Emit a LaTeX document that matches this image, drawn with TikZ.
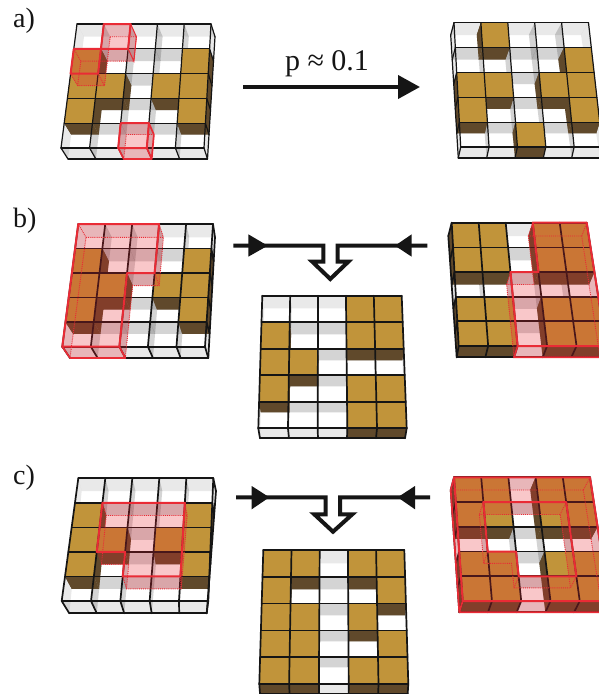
\documentclass[tikz,border=0pt]{standalone}
\usepackage{fontspec}
\setmainfont{Liberation Serif}
\usetikzlibrary{calc,arrows.meta}
\definecolor{gold}{HTML}{C1943A}
\definecolor{wallc}{HTML}{60492B}
\definecolor{redc}{HTML}{E8202A}
\definecolor{inkc}{HTML}{151515}
\tikzset{
  x=1pt,y=-1pt,
  goldtop/.style={fill=gold},
  goldwall/.style={fill=wallc},
  glass/.style={fill=black,fill opacity=.085},
  gridline/.style={draw=inkc,line width=\lw pt,line join=round,line cap=round},
  redtop/.style={draw=redc!95!white,line width=2pt,line join=round},
  redside/.style={draw=redc!95!white,line width=1pt},
  redfront/.style={draw=redc!95!white,line width=1.7pt,line join=round},
  reddot/.style={draw=redc!95!white,line width=.9pt,densely dotted},
  flow/.style={draw=inkc,line width=4pt,miter limit=10},
  headfill/.style={fill=inkc},
  caption/.style={font=\fontsize{28}{30}\selectfont,text=inkc,inner sep=0pt},
}
\newcommand\gridpts[5]{%
  \foreach \i in {0,...,5}{\foreach \j in {0,...,5}{%
    \coordinate (#1-\i-\j) at ($($#2!\i/5!#3$)!\j/5!($#5!\i/5!#4$)$);
  }}}
\newcommand\wallq[5]{% prefix, i1,j1,i2,j2 : wall between two top-plane corners
  (#1T-#2-#3) -- (#1T-#4-#5) -- (#1F-#4-#5) -- (#1F-#2-#3) -- cycle}
% #1 prefix, #2 block cells c/r (back to front), #3 visible floor side (-1 none), #4 line width
\newcommand\panel[4]{%
  \def\lw{#4}%
  \foreach \i in {0,...,4}{\foreach \j in {0,...,4}{%
    \pgfmathtruncatemacro\ii{\i+1}\pgfmathtruncatemacro\jj{\j+1}%
    \fill[glass] \wallq{#1}{\i}{\j}{\ii}{\j};
    \fill[glass] \wallq{#1}{\i}{\jj}{\ii}{\jj};
    \fill[glass] \wallq{#1}{\i}{\j}{\i}{\jj};
    \fill[glass] \wallq{#1}{\ii}{\j}{\ii}{\jj};
  }}%
  \foreach \i/\j in {#2}{%
    \pgfmathtruncatemacro\ii{\i+1}\pgfmathtruncatemacro\jj{\j+1}%
    \fill[goldwall] \wallq{#1}{\i}{\j}{\ii}{\j};
    \fill[goldwall] \wallq{#1}{\i}{\jj}{\ii}{\jj};
    \fill[goldwall] \wallq{#1}{\i}{\j}{\i}{\jj};
    \fill[goldwall] \wallq{#1}{\ii}{\j}{\ii}{\jj};
  }%
  \foreach \i/\j in {#2}{%
    \pgfmathtruncatemacro\ii{\i+1}\pgfmathtruncatemacro\jj{\j+1}%
    \fill[goldtop] (#1T-\i-\j) -- (#1T-\ii-\j) -- (#1T-\ii-\jj) -- (#1T-\i-\jj) -- cycle;
  }%
  \foreach \k in {0,...,5}{%
    \draw[gridline] (#1T-\k-0) -- (#1T-\k-5);
    \draw[gridline] (#1T-0-\k) -- (#1T-5-\k);
    \draw[gridline] (#1T-\k-5) -- (#1F-\k-5);
  }%
  \draw[gridline] (#1F-0-5) -- (#1F-5-5);
  \ifnum#3<0 \else
    \draw[gridline] (#1F-#3-0) -- (#1F-#3-5);
    \foreach \k in {0,...,4}{\draw[gridline] (#1T-#3-\k) -- (#1F-#3-\k);}%
  \fi
}
% translucent red prism over cells
\newcommand\redcells[2]{%
  \begin{scope}[transparency group,opacity=.25]
  \foreach \i/\j in {#2}{%
    \pgfmathtruncatemacro\ii{\i+1}\pgfmathtruncatemacro\jj{\j+1}%
    \fill[redc] (#1T-\i-\j) -- (#1T-\ii-\j) -- (#1T-\ii-\jj) -- (#1T-\i-\jj) -- cycle;
    \fill[redc] (#1F-\i-\j) -- (#1F-\ii-\j) -- (#1F-\ii-\jj) -- (#1F-\i-\jj) -- cycle;
    \fill[redc] \wallq{#1}{\i}{\j}{\ii}{\j};
    \fill[redc] \wallq{#1}{\i}{\jj}{\ii}{\jj};
    \fill[redc] \wallq{#1}{\i}{\j}{\i}{\jj};
    \fill[redc] \wallq{#1}{\ii}{\j}{\ii}{\jj};
  }%
  \end{scope}
}
\newcommand\rpoly[4]{\draw[#1] (#2-#3) \foreach \p in {#4}{ -- (#2-\p)} -- cycle;}
\begin{document}
\begin{tikzpicture}
\useasboundingbox (0,0) rectangle (598,694);
\fill[white] (0,0) rectangle (598,694);
% ---------- plane coordinates
\gridpts{alT}{(77,24)}{(211,24)}{(204,148)}{(61,148)}
\gridpts{alF}{(84,36.7)}{(215,36.7)}{(207.5,159)}{(68,159)}
\gridpts{arT}{(454,22.7)}{(588.5,22.7)}{(602.5,147)}{(460.7,147)}
\gridpts{arF}{(450.7,35)}{(581,35)}{(600,158)}{(458.3,158)}
\gridpts{blT}{(78.3,224)}{(213,224)}{(205,346.7)}{(62.3,346.7)}
\gridpts{blF}{(86,237.3)}{(215,237.3)}{(208.3,358)}{(70,358)}
\gridpts{bmT}{(262.3,295.7)}{(401.7,295.7)}{(406.7,428.3)}{(258.3,428.3)}
\gridpts{bmF}{(264.3,308.3)}{(400.7,308.3)}{(405,438.3)}{(260,438.3)}
\gridpts{brT}{(451.7,222.7)}{(586.7,222.7)}{(606,346)}{(458.7,346)}
\gridpts{brF}{(448.3,236)}{(581.7,236)}{(600,357.3)}{(456.7,357.3)}
\gridpts{clT}{(78.3,478.3)}{(213.3,478.3)}{(208.3,601)}{(61.7,601)}
\gridpts{clF}{(81.7,491)}{(216,491)}{(206.7,613.3)}{(69.3,613.3)}
\gridpts{cmT}{(263.3,550)}{(404.3,550)}{(408.3,684)}{(259.3,684)}
\gridpts{cmF}{(264.3,563.3)}{(403.3,563.3)}{(407.7,693.5)}{(260,693.5)}
\gridpts{crT}{(454,477.3)}{(590,477.3)}{(609,601)}{(462.7,601)}
\gridpts{crF}{(450.7,490)}{(583.3,490)}{(602.7,612.3)}{(459.3,612.3)}
% ---------- panels
\panel{al}{0/1,4/1,0/2,1/2,3/2,4/2,0/3,4/3}{5}{1.2}
\panel{ar}{1/0,4/1,0/2,1/2,3/2,4/2,0/3,4/3,2/4}{0}{1.2}
\panel{bl}{0/1,4/1,0/2,1/2,3/2,4/2,0/3,4/3}{5}{1.7}
\panel{bm}{3/0,4/0,0/1,3/1,4/1,0/2,1/2,0/3,3/3,4/3,3/4,4/4}{-1}{1.7}
\panel{br}{0/0,1/0,3/0,4/0,0/1,1/1,3/1,4/1,0/3,1/3,3/3,4/3,0/4,1/4,3/4,4/4}{0}{1.7}
\panel{cl}{0/1,4/1,0/2,1/2,3/2,4/2,0/3,4/3}{5}{1.7}
\panel{cm}{0/0,1/0,3/0,4/0,0/1,4/1,0/2,1/2,3/2,0/3,1/3,4/3,0/4,1/4,3/4,4/4}{-1}{1.7}
\panel{cr}{0/0,1/0,3/0,4/0,0/1,1/1,3/1,4/1,0/3,1/3,3/3,4/3,0/4,1/4,3/4,4/4}{0}{1.7}
% ---------- red overlays
\redcells{al}{1/0,0/1,2/4}
\rpoly{reddot}{alF}{1-0}{2-0,2-1,1-1}
\rpoly{reddot}{alF}{0-1}{1-1,1-2,0-2}
\rpoly{reddot}{alF}{2-4}{3-4,3-5,2-5}
\draw[redside] (alT-2-0) -- (alF-2-0) -- (alF-2-1) -- (alT-2-1);
\draw[reddot] (alT-0-2) -- (alF-0-2) (alT-1-2) -- (alF-1-2) (alT-0-1) -- (alF-0-1);
\draw[redfront] (alT-3-4) -- (alF-3-4) -- (alF-3-5) -- (alF-2-5) -- (alT-2-5) (alT-3-5) -- (alF-3-5);
\rpoly{redtop}{alT}{1-0}{2-0,2-1,1-1}
\rpoly{redtop}{alT}{0-1}{1-1,1-2,0-2}
\rpoly{redtop}{alT}{2-4}{3-4,3-5,2-5}

\redcells{bl}{0/0,1/0,2/0,0/1,1/1,2/1,0/2,1/2,0/3,1/3,0/4,1/4}
\rpoly{reddot}{blF}{0-0}{3-0,3-2,2-2,2-5,0-5}
\draw[reddot] (blT-0-0) -- (blF-0-0) (blT-3-2) -- (blF-3-2) (blT-3-0) -- (blF-3-0);
\draw[redfront] (blT-0-5) -- (blF-0-5) -- (blF-2-5) -- (blT-2-5);
\rpoly{redtop}{blT}{0-0}{3-0,3-2,2-2,2-5,0-5}

\redcells{br}{3/0,4/0,3/1,4/1,2/2,3/2,4/2,2/3,3/3,4/3,2/4,3/4,4/4}
\rpoly{reddot}{brF}{3-0}{5-0,5-5,2-5,2-2,3-2}
\draw[reddot] (brT-3-0) -- (brF-3-0) (brT-5-0) -- (brF-5-0) (brT-2-2) -- (brF-2-2);
\draw[redfront] (brT-2-5) -- (brF-2-5) -- (brF-5-5) -- (brT-5-5);
\rpoly{redtop}{brT}{3-0}{5-0,5-5,2-5,2-2,3-2}

\redcells{cl}{1/1,2/1,3/1,1/2,2/2,3/2,2/3,3/3}
\rpoly{reddot}{clF}{1-1}{4-1,4-4,2-4,2-3,1-3}
\draw[reddot] (clT-1-1) -- (clF-1-1) (clT-4-1) -- (clF-4-1) (clT-4-4) -- (clF-4-4) (clT-2-4) -- (clF-2-4);
\rpoly{redtop}{clT}{1-1}{4-1,4-4,2-4,2-3,1-3}

\redcells{cr}{0/0,1/0,2/0,3/0,4/0,0/1,4/1,0/2,4/2,0/3,1/3,4/3,0/4,1/4,2/4,3/4,4/4}
\rpoly{reddot}{crF}{0-0}{5-0,5-5,0-5}
\rpoly{reddot}{crF}{1-1}{4-1,4-4,2-4,2-3,1-3}
\draw[reddot] (crT-1-1) -- (crF-1-1) (crT-4-1) -- (crF-4-1) (crT-4-4) -- (crF-4-4) (crT-2-4) -- (crF-2-4) (crT-1-3) -- (crF-1-3) (crT-5-0) -- (crF-5-0);
\draw[redfront] (crT-0-0) -- (crF-0-0) -- (crF-0-5) -- (crT-0-5) (crF-0-5) -- (crF-5-5) -- (crT-5-5);
\rpoly{redtop}{crT}{0-0}{5-0,5-5,0-5}
\rpoly{redtop}{crT}{1-1}{4-1,4-4,2-4,2-3,1-3}
% ---------- labels
\node[caption,anchor=base west] (la) at (13,27) {a)};
\node[caption,anchor=base west] (lb) at (13,227) {b)};
\node[caption,anchor=base west] (lc) at (13,484) {c)};
\node[caption,anchor=base,font=\fontsize{30}{32}\selectfont] (lp) at (327,70) {p ≈ 0.1};
% ---------- arrows
\coordinate (as) at (243,87);
\coordinate (ae) at (420,87);
\draw[flow,-{Triangle[length=22pt,width=23pt]}] (as) -- (ae);
% b merge
\coordinate (b1) at (233.3,245.7);
\coordinate (b2) at (323.3,245.7);
\coordinate (b3) at (323.3,261.7);
\coordinate (b4) at (312.3,261.7);
\coordinate (b5) at (330.3,279);
\coordinate (b6) at (348.3,261.7);
\coordinate (b7) at (337.7,261.7);
\coordinate (b8) at (337.7,245.7);
\coordinate (b9) at (427.3,245.7);
\draw[flow] (b1) -- (b2) -- (b3) -- (b4) -- (b5) -- (b6) -- (b7) -- (b8) -- (b9);
\coordinate (bha) at (248.3,234.3);
\coordinate (bhb) at (248.3,256.7);
\coordinate (bhc) at (267.7,245.7);
\coordinate (bhd) at (411.7,234.3);
\coordinate (bhe) at (411.7,256.7);
\coordinate (bhf) at (395,245.7);
\fill[headfill] (bha) -- (bhb) -- (bhc) -- cycle;
\fill[headfill] (bhd) -- (bhe) -- (bhf) -- cycle;
% c merge
\coordinate (c1) at (236,497.3);
\coordinate (c2) at (325.7,497.3);
\coordinate (c3) at (325.7,514.3);
\coordinate (c4) at (314.3,514.3);
\coordinate (c5) at (333,531.7);
\coordinate (c6) at (352.3,514.3);
\coordinate (c7) at (340,514.3);
\coordinate (c8) at (340,497.3);
\coordinate (c9) at (430,497.3);
\draw[flow] (c1) -- (c2) -- (c3) -- (c4) -- (c5) -- (c6) -- (c7) -- (c8) -- (c9);
\coordinate (cha) at (251.7,486);
\coordinate (chb) at (251.7,509.3);
\coordinate (chc) at (269.3,497.3);
\coordinate (chd) at (415,486);
\coordinate (che) at (415,509.3);
\coordinate (chf) at (397.7,497.3);
\fill[headfill] (cha) -- (chb) -- (chc) -- cycle;
\fill[headfill] (chd) -- (che) -- (chf) -- cycle;
\end{tikzpicture}
\end{document}
